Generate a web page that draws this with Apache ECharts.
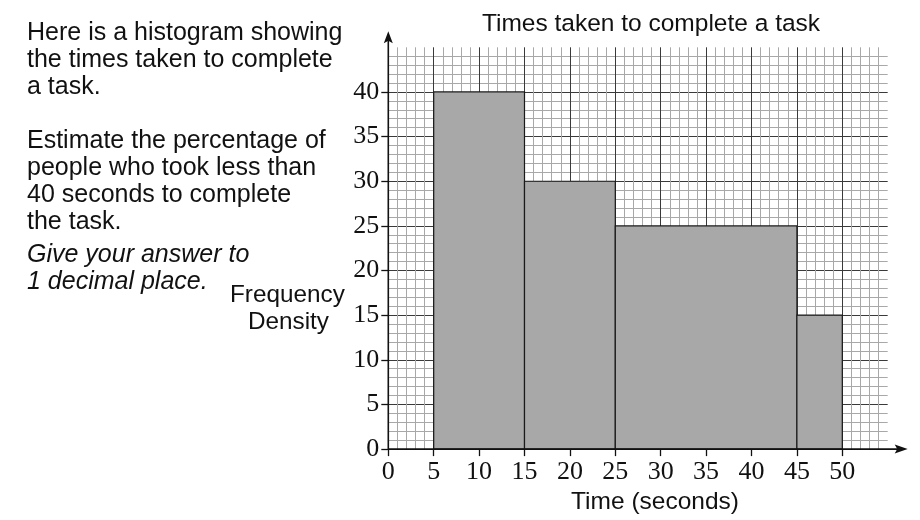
<!DOCTYPE html>
<html><head><meta charset="utf-8">
<script src="https://cdn.jsdelivr.net/npm/echarts@6/dist/echarts.min.js"></script>
<style>html,body{margin:0;padding:0;background:#fff;overflow:hidden}#c{width:920px;height:520px}</style>
</head><body><div id="c"></div>
<script>
// Data
var binStarts = [5, 15, 25, 45];
var binEnds = [15, 25, 45, 50];
var freqDensity = [40, 30, 25, 15];
var xTickLabels = [0, 5, 10, 15, 20, 25, 30, 35, 40, 45, 50];
var yTickLabels = [0, 5, 10, 15, 20, 25, 30, 35, 40];

var chart = echarts.init(document.getElementById('c'), null, {renderer: 'canvas', width: 920, height: 520});
var data = binStarts.map(function (s, i) { return [s, binEnds[i], freqDensity[i]]; });

var sans = 'Liberation Sans, Arial, sans-serif';
var serif = 'Liberation Serif, Times New Roman, serif';

var option = {
  animation: false,
  backgroundColor: '#fff',
  title: {
    text: 'Times taken to complete a task',
    left: 646, top: 7, textAlign: 'center',
    textStyle: {fontFamily: sans, fontSize: 24.5, fontWeight: 'normal', color: '#111'}
  },
  grid: {left: 388.3, top: 47.3, width: 499.4, height: 408.4, containLabel: false},
  xAxis: {
    type: 'value', min: 0, max: 55, interval: 5,
    name: 'Time (seconds)', nameLocation: 'middle', nameGap: 37,
    nameTextStyle: {fontFamily: sans, fontSize: 24.5, color: '#111', padding: [0, 0, 0, 34]},
    axisLine: {show: false},
    axisTick: {show: true, length: 7, lineStyle: {color: '#111', width: 1.3}, customValues: xTickLabels},
    axisLabel: {fontFamily: serif, fontSize: 26, color: '#111', margin: 10, customValues: xTickLabels},
    splitLine: {show: true, lineStyle: {color: '#3a3a3a', width: 1}},
    minorTick: {show: false, splitNumber: 5},
    minorSplitLine: {show: true, lineStyle: {color: '#a8a8a8', width: 1}}
  },
  yAxis: {
    type: 'value', min: 0, max: 45, interval: 5,
    axisLine: {show: false},
    axisTick: {show: true, length: 7, lineStyle: {color: '#111', width: 1.3}, customValues: yTickLabels},
    axisLabel: {fontFamily: serif, fontSize: 26, color: '#111', margin: 9, customValues: yTickLabels},
    splitLine: {show: true, lineStyle: {color: '#3a3a3a', width: 1}},
    minorTick: {show: false, splitNumber: 5},
    minorSplitLine: {show: true, lineStyle: {color: '#a8a8a8', width: 1}}
  },
  series: [{
    type: 'custom',
    data: data,
    encode: {x: [0, 1], y: 2},
    renderItem: function (params, api) {
      var p0 = api.coord([api.value(0), api.value(2)]);
      var p1 = api.coord([api.value(1), 0]);
      return {
        type: 'rect',
        shape: {x: p0[0], y: p0[1], width: p1[0] - p0[0], height: p1[1] - p0[1]},
        style: {fill: '#a8a8a8', stroke: '#1a1a1a', lineWidth: 1.2}
      };
    }
  }],
  graphic: []
};
chart.setOption(option);

// Axis lines with arrows extending past the grid, positioned from the scales
var o = chart.convertToPixel({gridIndex: 0}, [0, 0]);
var xe = chart.convertToPixel({gridIndex: 0}, [55, 0]);
var ye = chart.convertToPixel({gridIndex: 0}, [0, 45]);
var g = [
  {type: 'line', shape: {x1: o[0], y1: o[1], x2: xe[0] + 10, y2: o[1]}, style: {stroke: '#111', lineWidth: 1.6}, z: 100},
  {type: 'polygon', shape: {points: [[xe[0] + 20, o[1]], [xe[0] + 7, o[1] - 4.5], [xe[0] + 9.5, o[1]], [xe[0] + 7, o[1] + 4.5]]}, style: {fill: '#111'}, z: 100},
  {type: 'line', shape: {x1: o[0], y1: o[1], x2: o[0], y2: ye[1] - 7}, style: {stroke: '#111', lineWidth: 1.6}, z: 100},
  {type: 'polygon', shape: {points: [[o[0], ye[1] - 16], [o[0] - 4.5, ye[1] - 4], [o[0], ye[1] - 6.5], [o[0] + 4.5, ye[1] - 4]]}, style: {fill: '#111'}, z: 100},
  {type: 'text', left: 27, top: 20, style: {text: 'Here is a histogram showing\nthe times taken to complete\na task.', font: '25px ' + sans, fill: '#111', lineHeight: 26.7}},
  {type: 'text', left: 27, top: 128, style: {text: 'Estimate the percentage of\npeople who took less than\n40 seconds to complete\nthe task.', font: '25px ' + sans, fill: '#111', lineHeight: 27}},
  {type: 'text', left: 27, top: 241, style: {text: 'Give your answer to\n1 decimal place.', font: 'italic 25px ' + sans, fill: '#111', lineHeight: 27.5}},
  {type: 'text', left: 230, top: 283.5, style: {text: 'Frequency', font: '24.3px ' + sans, fill: '#111'}},
  {type: 'text', left: 248, top: 310, style: {text: 'Density', font: '24.3px ' + sans, fill: '#111'}}
];
chart.setOption({graphic: g});
</script>
</body></html>
